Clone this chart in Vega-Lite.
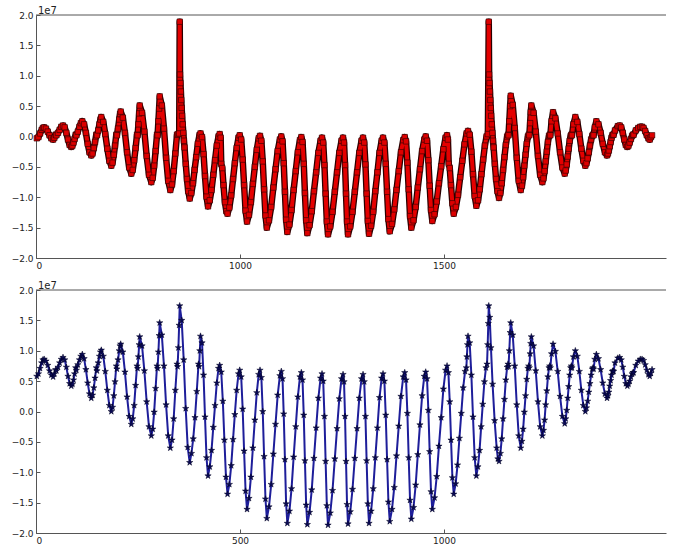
{
"$schema":"https://vega.github.io/schema/vega-lite/v6.json",
"padding":{"left":11,"top":6,"right":15,"bottom":5},
"bounds":"flush",
"spacing":32,
"config":{"view":{"stroke":null},"font":"DejaVu Sans","axis":{"labelFont":"DejaVu Sans","labelFontSize":9,"labelColor":"#222","domainColor":"#555","tickColor":"#555","grid":false,"title":null,"tickSize":-4,"labelPadding":7,"labelOverlap":false}},
"datasets":{
"top":[{"x":2,"y":-0.03},{"x":6,"y":-0.01},{"x":10,"y":0.05},{"x":14,"y":0.11},{"x":17,"y":0.14},{"x":20,"y":0.15},{"x":24.4,"y":0.13},{"x":28.8,"y":0.08},{"x":33.2,"y":0.02},{"x":37.6,"y":-0.03},{"x":42,"y":-0.05},{"x":45,"y":-0.02},{"x":48.3,"y":0.03},{"x":50,"y":0.02},{"x":54,"y":0.06},{"x":58,"y":0.11},{"x":62,"y":0.16},{"x":66.2,"y":0.18},{"x":70.3,"y":0.15},{"x":74.4,"y":0.06},{"x":78.4,"y":-0.05},{"x":82.5,"y":-0.14},{"x":86.5,"y":-0.17},{"x":89.2,"y":-0.15},{"x":91.9,"y":-0.10},{"x":94.6,"y":-0.04},{"x":97.3,"y":0.03},{"x":99,"y":0.02},{"x":102.5,"y":0.08},{"x":106.5,"y":0.16},{"x":110,"y":0.22},{"x":113.5,"y":0.25},{"x":117.9,"y":0.20},{"x":122.3,"y":0.06},{"x":126.7,"y":-0.12},{"x":131.1,"y":-0.26},{"x":135.5,"y":-0.31},{"x":138.6,"y":-0.28},{"x":141.7,"y":-0.19},{"x":144.7,"y":-0.09},{"x":147.8,"y":0.03},{"x":149.5,"y":0.02},{"x":152.5,"y":0.10},{"x":155.5,"y":0.20},{"x":158,"y":0.28},{"x":160,"y":0.32},{"x":164.9,"y":0.24},{"x":169.8,"y":0.04},{"x":174.8,"y":-0.20},{"x":179.7,"y":-0.40},{"x":184.6,"y":-0.48},{"x":187.6,"y":-0.43},{"x":190.7,"y":-0.30},{"x":193.7,"y":-0.15},{"x":196.8,"y":0.03},{"x":198.3,"y":0.02},{"x":201,"y":0.13},{"x":204,"y":0.28},{"x":206,"y":0.37},{"x":207.6,"y":0.41},{"x":212.8,"y":0.31},{"x":218,"y":0.06},{"x":223.2,"y":-0.26},{"x":228.4,"y":-0.51},{"x":233.6,"y":-0.61},{"x":237.1,"y":-0.55},{"x":240.6,"y":-0.39},{"x":244.1,"y":-0.19},{"x":247.6,"y":0.03},{"x":249,"y":0.02},{"x":251,"y":0.20},{"x":252.8,"y":0.38},{"x":254.2,"y":0.51},{"x":259.9,"y":0.39},{"x":265.6,"y":0.08},{"x":271.2,"y":-0.32},{"x":276.9,"y":-0.63},{"x":282.6,"y":-0.75},{"x":286.1,"y":-0.68},{"x":289.6,"y":-0.48},{"x":293.1,"y":-0.24},{"x":296.6,"y":0.03},{"x":298,"y":0.02},{"x":300,"y":0.25},{"x":301.8,"y":0.46},{"x":303.2,"y":0.66},{"x":308.4,"y":0.51},{"x":313.6,"y":0.13},{"x":318.8,"y":-0.35},{"x":324,"y":-0.73},{"x":329.2,"y":-0.88},{"x":333.3,"y":-0.79},{"x":337.4,"y":-0.57},{"x":341.5,"y":-0.28},{"x":345.6,"y":0.03},{"x":348,"y":0.04},{"x":351,"y":0.05},{"x":352.2,"y":1.89},{"x":353,"y":1.02},{"x":354,"y":0.88},{"x":355,"y":0.74},{"x":356,"y":0.60},{"x":357,"y":0.47},{"x":358,"y":0.34},{"x":359.5,"y":0.20},{"x":361,"y":0.06},{"x":362.5,"y":-0.07},{"x":364,"y":-0.18},{"x":367,"y":-0.45},{"x":370,"y":-0.70},{"x":373,"y":-0.90},{"x":376.7,"y":-1.02},{"x":380.7,"y":-0.93},{"x":384.7,"y":-0.77},{"x":388.6,"y":-0.55},{"x":392.6,"y":-0.34},{"x":396.6,"y":-0.12},{"x":400.6,"y":0.02},{"x":403.2,"y":0.05},{"x":406.9,"y":-0.01},{"x":410.6,"y":-0.29},{"x":414.2,"y":-0.65},{"x":417.9,"y":-0.99},{"x":421.6,"y":-1.15},{"x":425.9,"y":-1.05},{"x":430.2,"y":-0.88},{"x":434.5,"y":-0.63},{"x":438.8,"y":-0.39},{"x":443.1,"y":-0.15},{"x":447.3,"y":0.00},{"x":450.2,"y":0.04},{"x":452.5,"y":-0.02},{"x":454,"y":-0.45},{"x":456.5,"y":-0.52},{"x":459.5,"y":-0.80},{"x":463,"y":-1.08},{"x":466.5,"y":-1.23},{"x":469.4,"y":-1.27},{"x":473.9,"y":-1.17},{"x":478.4,"y":-0.97},{"x":482.9,"y":-0.70},{"x":487.3,"y":-0.44},{"x":491.8,"y":-0.19},{"x":496.3,"y":-0.02},{"x":499.3,"y":0.02},{"x":502.9,"y":-0.05},{"x":506.5,"y":-0.38},{"x":510,"y":-0.80},{"x":513.6,"y":-1.22},{"x":517.2,"y":-1.40},{"x":522,"y":-1.29},{"x":526.7,"y":-1.08},{"x":531.5,"y":-0.78},{"x":536.3,"y":-0.50},{"x":541.1,"y":-0.22},{"x":545.8,"y":-0.03},{"x":549,"y":0.01},{"x":552.3,"y":-0.07},{"x":555.7,"y":-0.41},{"x":559,"y":-0.87},{"x":562.4,"y":-1.30},{"x":565.7,"y":-1.50},{"x":571,"y":-1.38},{"x":576.4,"y":-1.16},{"x":581.7,"y":-0.84},{"x":587,"y":-0.54},{"x":592.3,"y":-0.24},{"x":597.7,"y":-0.05},{"x":601.2,"y":0.00},{"x":604.2,"y":-0.08},{"x":607.1,"y":-0.44},{"x":610.1,"y":-0.91},{"x":613,"y":-1.37},{"x":616,"y":-1.57},{"x":621.1,"y":-1.45},{"x":626.3,"y":-1.21},{"x":631.4,"y":-0.88},{"x":636.6,"y":-0.57},{"x":641.7,"y":-0.26},{"x":646.9,"y":-0.06},{"x":650.3,"y":-0.01},{"x":653.2,"y":-0.09},{"x":656.2,"y":-0.45},{"x":659.1,"y":-0.93},{"x":662.1,"y":-1.38},{"x":665,"y":-1.59},{"x":670.4,"y":-1.46},{"x":675.8,"y":-1.23},{"x":681.2,"y":-0.90},{"x":686.6,"y":-0.59},{"x":692,"y":-0.27},{"x":697.4,"y":-0.07},{"x":701,"y":-0.02},{"x":703.9,"y":-0.10},{"x":706.9,"y":-0.47},{"x":709.8,"y":-0.94},{"x":712.8,"y":-1.40},{"x":715.7,"y":-1.61},{"x":721.2,"y":-1.48},{"x":726.7,"y":-1.24},{"x":732.3,"y":-0.91},{"x":737.8,"y":-0.59},{"x":743.3,"y":-0.27},{"x":748.8,"y":-0.07},{"x":752.5,"y":-0.02},{"x":754.9,"y":-0.10},{"x":757.4,"y":-0.47},{"x":759.8,"y":-0.94},{"x":762.3,"y":-1.40},{"x":764.7,"y":-1.61},{"x":770.2,"y":-1.48},{"x":775.7,"y":-1.24},{"x":781.3,"y":-0.91},{"x":786.8,"y":-0.59},{"x":792.3,"y":-0.27},{"x":797.8,"y":-0.07},{"x":801.5,"y":-0.02},{"x":804.4,"y":-0.10},{"x":807.4,"y":-0.46},{"x":810.3,"y":-0.94},{"x":813.3,"y":-1.39},{"x":816.2,"y":-1.60},{"x":821.3,"y":-1.47},{"x":826.5,"y":-1.24},{"x":831.6,"y":-0.90},{"x":836.8,"y":-0.59},{"x":841.9,"y":-0.27},{"x":847.1,"y":-0.07},{"x":850.5,"y":-0.02},{"x":853.8,"y":-0.10},{"x":857.1,"y":-0.45},{"x":860.4,"y":-0.91},{"x":863.7,"y":-1.36},{"x":867,"y":-1.56},{"x":872.5,"y":-1.44},{"x":878,"y":-1.20},{"x":883.5,"y":-0.88},{"x":889,"y":-0.57},{"x":894.5,"y":-0.26},{"x":900,"y":-0.06},{"x":903.7,"y":-0.01},{"x":906.9,"y":-0.08},{"x":910.2,"y":-0.43},{"x":913.4,"y":-0.87},{"x":916.7,"y":-1.31},{"x":919.9,"y":-1.50},{"x":925.2,"y":-1.38},{"x":930.5,"y":-1.16},{"x":935.7,"y":-0.84},{"x":941,"y":-0.54},{"x":946.3,"y":-0.24},{"x":951.6,"y":-0.05},{"x":955.1,"y":0.00},{"x":958.3,"y":-0.07},{"x":961.6,"y":-0.39},{"x":964.8,"y":-0.81},{"x":968.1,"y":-1.21},{"x":971.3,"y":-1.39},{"x":976.7,"y":-1.28},{"x":982.1,"y":-1.07},{"x":987.5,"y":-0.77},{"x":993,"y":-0.49},{"x":998.4,"y":-0.21},{"x":1003.8,"y":-0.02},{"x":1007.4,"y":0.02},{"x":1009.5,"y":-0.05},{"x":1011.5,"y":-0.45},{"x":1014,"y":-0.52},{"x":1017,"y":-0.80},{"x":1020.5,"y":-1.10},{"x":1023.8,"y":-1.27},{"x":1029.1,"y":-1.16},{"x":1034.3,"y":-0.96},{"x":1039.6,"y":-0.67},{"x":1044.8,"y":-0.40},{"x":1050.1,"y":-0.13},{"x":1055.3,"y":0.05},{"x":1058.8,"y":0.09},{"x":1062.9,"y":0.03},{"x":1067,"y":-0.25},{"x":1071,"y":-0.62},{"x":1075.1,"y":-0.98},{"x":1079.2,"y":-1.14},{"x":1083.4,"y":-1.05},{"x":1087.5,"y":-0.87},{"x":1091.7,"y":-0.62},{"x":1095.9,"y":-0.38},{"x":1100.1,"y":-0.15},{"x":1104.2,"y":0.00},{"x":1107.5,"y":0.04},{"x":1109.6,"y":1.89},{"x":1110.5,"y":1.02},{"x":1111.5,"y":0.88},{"x":1112.5,"y":0.74},{"x":1113.5,"y":0.60},{"x":1114.5,"y":0.47},{"x":1115.5,"y":0.34},{"x":1117,"y":0.20},{"x":1118.5,"y":0.06},{"x":1120,"y":-0.07},{"x":1121.5,"y":-0.18},{"x":1124.5,"y":-0.45},{"x":1127.5,"y":-0.70},{"x":1131,"y":-0.90},{"x":1134.8,"y":-1.01},{"x":1138.1,"y":-0.93},{"x":1141.4,"y":-0.77},{"x":1144.7,"y":-0.55},{"x":1148.1,"y":-0.34},{"x":1151.4,"y":-0.14},{"x":1154.7,"y":0.00},{"x":1156.9,"y":0.03},{"x":1158,"y":0.02},{"x":1160,"y":0.25},{"x":1162,"y":0.50},{"x":1163.5,"y":0.67},{"x":1168.4,"y":0.52},{"x":1173.3,"y":0.14},{"x":1178.2,"y":-0.35},{"x":1183.1,"y":-0.73},{"x":1188,"y":-0.88},{"x":1190.9,"y":-0.81},{"x":1193.9,"y":-0.67},{"x":1196.8,"y":-0.48},{"x":1199.8,"y":-0.30},{"x":1202.7,"y":-0.12},{"x":1205.6,"y":0.00},{"x":1207.6,"y":0.03},{"x":1209,"y":0.02},{"x":1211,"y":0.22},{"x":1212.5,"y":0.40},{"x":1214,"y":0.51},{"x":1219.4,"y":0.39},{"x":1224.8,"y":0.08},{"x":1230.2,"y":-0.32},{"x":1235.6,"y":-0.63},{"x":1241,"y":-0.75},{"x":1243.7,"y":-0.69},{"x":1246.4,"y":-0.57},{"x":1249.1,"y":-0.41},{"x":1251.9,"y":-0.25},{"x":1254.6,"y":-0.09},{"x":1257.3,"y":0.01},{"x":1259.1,"y":0.03},{"x":1260.5,"y":0.02},{"x":1263.5,"y":0.25},{"x":1267.2,"y":0.40},{"x":1272.9,"y":0.30},{"x":1278.6,"y":0.05},{"x":1284.4,"y":-0.26},{"x":1290.1,"y":-0.51},{"x":1295.8,"y":-0.61},{"x":1298.2,"y":-0.56},{"x":1300.7,"y":-0.46},{"x":1303.1,"y":-0.33},{"x":1305.5,"y":-0.20},{"x":1308,"y":-0.07},{"x":1310.4,"y":0.01},{"x":1312,"y":0.03},{"x":1313.5,"y":0.02},{"x":1317,"y":0.20},{"x":1321.8,"y":0.32},{"x":1326.7,"y":0.24},{"x":1331.6,"y":0.04},{"x":1336.5,"y":-0.20},{"x":1341.4,"y":-0.40},{"x":1346.3,"y":-0.48},{"x":1349.1,"y":-0.44},{"x":1352,"y":-0.36},{"x":1354.8,"y":-0.26},{"x":1357.6,"y":-0.15},{"x":1360.5,"y":-0.05},{"x":1363.3,"y":0.01},{"x":1365.2,"y":0.03},{"x":1366.5,"y":0.02},{"x":1369.5,"y":0.15},{"x":1373.3,"y":0.25},{"x":1378.5,"y":0.20},{"x":1383.8,"y":0.06},{"x":1389,"y":-0.12},{"x":1394.3,"y":-0.26},{"x":1399.5,"y":-0.31},{"x":1401.7,"y":-0.28},{"x":1403.9,"y":-0.23},{"x":1406.1,"y":-0.16},{"x":1408.3,"y":-0.09},{"x":1410.5,"y":-0.02},{"x":1412.7,"y":0.02},{"x":1414.2,"y":0.03},{"x":1415.5,"y":0.03},{"x":1419,"y":0.10},{"x":1426,"y":0.17},{"x":1430.6,"y":0.18},{"x":1434.3,"y":0.15},{"x":1438.1,"y":0.06},{"x":1441.8,"y":-0.05},{"x":1445.6,"y":-0.14},{"x":1449.3,"y":-0.17},{"x":1452,"y":-0.15},{"x":1455,"y":-0.10},{"x":1458,"y":-0.04},{"x":1461,"y":0.01},{"x":1463.2,"y":0.03},{"x":1464.5,"y":0.03},{"x":1470,"y":0.10},{"x":1476,"y":0.14},{"x":1481,"y":0.16},{"x":1485.3,"y":0.16},{"x":1489,"y":0.14},{"x":1493,"y":0.09},{"x":1497,"y":0.02},{"x":1501,"y":-0.03},{"x":1504.1,"y":-0.05},{"x":1507,"y":-0.01},{"x":1509.8,"y":0.02}],
"bottom":[{"x":2,"y":0.58},{"x":6,"y":0.62},{"x":10,"y":0.71},{"x":14,"y":0.80},{"x":17,"y":0.85},{"x":20,"y":0.86},{"x":24.4,"y":0.83},{"x":28.8,"y":0.76},{"x":33.2,"y":0.67},{"x":37.6,"y":0.60},{"x":42,"y":0.57},{"x":45,"y":0.62},{"x":48.3,"y":0.69},{"x":50,"y":0.67},{"x":54,"y":0.73},{"x":58,"y":0.80},{"x":62,"y":0.86},{"x":66.2,"y":0.89},{"x":70.3,"y":0.85},{"x":74.4,"y":0.73},{"x":78.4,"y":0.58},{"x":82.5,"y":0.46},{"x":86.5,"y":0.42},{"x":89.2,"y":0.45},{"x":91.9,"y":0.52},{"x":94.6,"y":0.62},{"x":97.3,"y":0.72},{"x":99,"y":0.68},{"x":102.5,"y":0.77},{"x":106.5,"y":0.85},{"x":110,"y":0.91},{"x":113.5,"y":0.94},{"x":117.9,"y":0.87},{"x":122.3,"y":0.69},{"x":126.7,"y":0.47},{"x":131.1,"y":0.29},{"x":135.5,"y":0.22},{"x":138.6,"y":0.27},{"x":141.7,"y":0.39},{"x":144.7,"y":0.55},{"x":147.8,"y":0.72},{"x":149.5,"y":0.67},{"x":152.5,"y":0.80},{"x":155.5,"y":0.91},{"x":158,"y":0.98},{"x":160,"y":1.01},{"x":164.9,"y":0.91},{"x":169.8,"y":0.66},{"x":174.8,"y":0.35},{"x":179.7,"y":0.10},{"x":184.6,"y":0.00},{"x":187.6,"y":0.07},{"x":190.7,"y":0.26},{"x":193.7,"y":0.49},{"x":196.8,"y":0.75},{"x":198.3,"y":0.70},{"x":201,"y":0.85},{"x":204,"y":1.00},{"x":206,"y":1.08},{"x":207.6,"y":1.11},{"x":212.8,"y":0.98},{"x":218,"y":0.65},{"x":223.2,"y":0.24},{"x":228.4,"y":-0.08},{"x":233.6,"y":-0.21},{"x":237.1,"y":-0.12},{"x":240.6,"y":0.10},{"x":244.1,"y":0.43},{"x":247.6,"y":0.75},{"x":249,"y":0.71},{"x":251,"y":0.90},{"x":252.8,"y":1.10},{"x":254.2,"y":1.23},{"x":259.9,"y":1.08},{"x":265.6,"y":0.67},{"x":271.2,"y":0.16},{"x":276.9,"y":-0.25},{"x":282.6,"y":-0.40},{"x":286.1,"y":-0.29},{"x":289.6,"y":-0.01},{"x":293.1,"y":0.38},{"x":296.6,"y":0.75},{"x":298,"y":0.71},{"x":300,"y":0.98},{"x":301.8,"y":1.25},{"x":303.2,"y":1.46},{"x":308.4,"y":1.26},{"x":313.6,"y":0.75},{"x":318.8,"y":0.11},{"x":324,"y":-0.40},{"x":329.2,"y":-0.60},{"x":333.3,"y":-0.47},{"x":337.4,"y":-0.12},{"x":341.5,"y":0.35},{"x":345.6,"y":0.78},{"x":347,"y":0.74},{"x":349,"y":1.05},{"x":350.8,"y":1.42},{"x":352.2,"y":1.74},{"x":357.1,"y":1.50},{"x":362,"y":0.85},{"x":366.9,"y":0.05},{"x":371.8,"y":-0.59},{"x":376.7,"y":-0.84},{"x":381,"y":-0.69},{"x":385.3,"y":-0.45},{"x":389.7,"y":-0.10},{"x":394,"y":0.33},{"x":398.3,"y":0.78},{"x":399.8,"y":0.74},{"x":401.5,"y":1.00},{"x":403.2,"y":1.24},{"x":406.9,"y":1.13},{"x":410.6,"y":0.60},{"x":414.2,"y":-0.09},{"x":417.9,"y":-0.76},{"x":421.6,"y":-1.06},{"x":425.9,"y":-0.91},{"x":430.2,"y":-0.64},{"x":434.5,"y":-0.26},{"x":438.8,"y":0.10},{"x":443.1,"y":0.47},{"x":447.3,"y":0.71},{"x":450.2,"y":0.76},{"x":454,"y":0.65},{"x":457.9,"y":0.17},{"x":461.7,"y":-0.47},{"x":465.6,"y":-1.08},{"x":469.4,"y":-1.36},{"x":473.9,"y":-1.20},{"x":478.4,"y":-0.89},{"x":482.9,"y":-0.46},{"x":487.3,"y":-0.05},{"x":491.8,"y":0.35},{"x":496.3,"y":0.62},{"x":499.3,"y":0.68},{"x":502.9,"y":0.57},{"x":506.5,"y":0.04},{"x":510,"y":-0.65},{"x":513.6,"y":-1.31},{"x":517.2,"y":-1.61},{"x":522,"y":-1.43},{"x":526.7,"y":-1.08},{"x":531.5,"y":-0.60},{"x":536.3,"y":-0.14},{"x":541.1,"y":0.31},{"x":545.8,"y":0.61},{"x":549,"y":0.68},{"x":552.3,"y":0.56},{"x":555.7,"y":0.00},{"x":559,"y":-0.74},{"x":562.4,"y":-1.44},{"x":565.7,"y":-1.76},{"x":571,"y":-1.57},{"x":576.4,"y":-1.20},{"x":581.7,"y":-0.70},{"x":587,"y":-0.21},{"x":592.3,"y":0.27},{"x":597.7,"y":0.59},{"x":601.2,"y":0.66},{"x":604.2,"y":0.54},{"x":607.1,"y":-0.04},{"x":610.1,"y":-0.79},{"x":613,"y":-1.52},{"x":616,"y":-1.84},{"x":621.1,"y":-1.64},{"x":626.3,"y":-1.27},{"x":631.4,"y":-0.75},{"x":636.6,"y":-0.25},{"x":641.7,"y":0.24},{"x":646.9,"y":0.57},{"x":650.3,"y":0.64},{"x":653.2,"y":0.52},{"x":656.2,"y":-0.06},{"x":659.1,"y":-0.81},{"x":662.1,"y":-1.54},{"x":665,"y":-1.86},{"x":670.4,"y":-1.66},{"x":675.8,"y":-1.29},{"x":681.2,"y":-0.77},{"x":686.6,"y":-0.27},{"x":692,"y":0.22},{"x":697.4,"y":0.55},{"x":701,"y":0.62},{"x":703.9,"y":0.50},{"x":706.9,"y":-0.08},{"x":709.8,"y":-0.82},{"x":712.8,"y":-1.55},{"x":715.7,"y":-1.87},{"x":721.2,"y":-1.67},{"x":726.7,"y":-1.30},{"x":732.3,"y":-0.78},{"x":737.8,"y":-0.28},{"x":743.3,"y":0.21},{"x":748.8,"y":0.54},{"x":752.5,"y":0.61},{"x":754.9,"y":0.49},{"x":757.4,"y":-0.08},{"x":759.8,"y":-0.82},{"x":762.3,"y":-1.53},{"x":764.7,"y":-1.85},{"x":770.2,"y":-1.65},{"x":775.7,"y":-1.28},{"x":781.3,"y":-0.77},{"x":786.8,"y":-0.28},{"x":792.3,"y":0.22},{"x":797.8,"y":0.54},{"x":801.5,"y":0.61},{"x":804.4,"y":0.49},{"x":807.4,"y":-0.08},{"x":810.3,"y":-0.81},{"x":813.3,"y":-1.52},{"x":816.2,"y":-1.84},{"x":821.3,"y":-1.64},{"x":826.5,"y":-1.27},{"x":831.6,"y":-0.76},{"x":836.8,"y":-0.27},{"x":841.9,"y":0.23},{"x":847.1,"y":0.55},{"x":850.5,"y":0.62},{"x":853.8,"y":0.50},{"x":857.1,"y":-0.06},{"x":860.4,"y":-0.79},{"x":863.7,"y":-1.49},{"x":867,"y":-1.81},{"x":872.5,"y":-1.61},{"x":878,"y":-1.25},{"x":883.5,"y":-0.73},{"x":889,"y":-0.24},{"x":894.5,"y":0.25},{"x":900,"y":0.57},{"x":903.7,"y":0.64},{"x":906.9,"y":0.52},{"x":910.2,"y":-0.03},{"x":913.4,"y":-0.76},{"x":916.7,"y":-1.46},{"x":919.9,"y":-1.77},{"x":925.2,"y":-1.58},{"x":930.5,"y":-1.21},{"x":935.7,"y":-0.71},{"x":941,"y":-0.22},{"x":946.3,"y":0.26},{"x":951.6,"y":0.58},{"x":955.1,"y":0.65},{"x":958.3,"y":0.54},{"x":961.6,"y":0.02},{"x":964.8,"y":-0.66},{"x":968.1,"y":-1.32},{"x":971.3,"y":-1.61},{"x":976.7,"y":-1.42},{"x":982.1,"y":-1.07},{"x":987.5,"y":-0.57},{"x":993,"y":-0.10},{"x":998.4,"y":0.37},{"x":1003.8,"y":0.68},{"x":1007.4,"y":0.75},{"x":1010.7,"y":0.64},{"x":1014,"y":0.16},{"x":1017.2,"y":-0.47},{"x":1020.5,"y":-1.09},{"x":1023.8,"y":-1.36},{"x":1028.4,"y":-1.19},{"x":1033.1,"y":-0.88},{"x":1037.7,"y":-0.44},{"x":1042.3,"y":-0.03},{"x":1046.9,"y":0.39},{"x":1051.6,"y":0.66},{"x":1054.7,"y":0.72},{"x":1056,"y":0.90},{"x":1057.5,"y":1.10},{"x":1058.8,"y":1.24},{"x":1062.9,"y":1.13},{"x":1067,"y":0.60},{"x":1071,"y":-0.09},{"x":1075.1,"y":-0.76},{"x":1079.2,"y":-1.06},{"x":1083.1,"y":-0.91},{"x":1087.1,"y":-0.64},{"x":1091,"y":-0.25},{"x":1094.9,"y":0.12},{"x":1098.9,"y":0.49},{"x":1102.8,"y":0.72},{"x":1105.4,"y":0.78},{"x":1107,"y":1.10},{"x":1108.5,"y":1.45},{"x":1109.6,"y":1.74},{"x":1112,"y":1.55},{"x":1115,"y":1.05},{"x":1119,"y":0.45},{"x":1124,"y":-0.15},{"x":1129,"y":-0.60},{"x":1132,"y":-0.78},{"x":1134.8,"y":-0.82},{"x":1138.1,"y":-0.69},{"x":1141.4,"y":-0.45},{"x":1144.7,"y":-0.12},{"x":1148.1,"y":0.20},{"x":1151.4,"y":0.52},{"x":1154.7,"y":0.73},{"x":1156.9,"y":0.78},{"x":1158,"y":0.74},{"x":1160,"y":1.00},{"x":1162,"y":1.30},{"x":1163.5,"y":1.46},{"x":1168.4,"y":1.26},{"x":1173.3,"y":0.75},{"x":1178.2,"y":0.11},{"x":1183.1,"y":-0.40},{"x":1188,"y":-0.60},{"x":1190.9,"y":-0.49},{"x":1193.9,"y":-0.29},{"x":1196.8,"y":-0.01},{"x":1199.8,"y":0.26},{"x":1202.7,"y":0.53},{"x":1205.6,"y":0.71},{"x":1207.6,"y":0.75},{"x":1209,"y":0.72},{"x":1211,"y":0.95},{"x":1212.5,"y":1.12},{"x":1214,"y":1.23},{"x":1219.4,"y":1.08},{"x":1224.8,"y":0.67},{"x":1230.2,"y":0.16},{"x":1235.6,"y":-0.25},{"x":1241,"y":-0.40},{"x":1243.7,"y":-0.31},{"x":1246.4,"y":-0.14},{"x":1249.1,"y":0.11},{"x":1251.9,"y":0.34},{"x":1254.6,"y":0.57},{"x":1257.3,"y":0.72},{"x":1259.1,"y":0.75},{"x":1260.5,"y":0.72},{"x":1263.5,"y":0.95},{"x":1267.2,"y":1.11},{"x":1272.9,"y":0.99},{"x":1278.6,"y":0.66},{"x":1284.4,"y":0.25},{"x":1290.1,"y":-0.08},{"x":1295.8,"y":-0.20},{"x":1298.2,"y":-0.12},{"x":1300.7,"y":0.02},{"x":1303.1,"y":0.22},{"x":1305.5,"y":0.41},{"x":1308,"y":0.60},{"x":1310.4,"y":0.72},{"x":1312,"y":0.75},{"x":1313.5,"y":0.72},{"x":1317,"y":0.90},{"x":1321.8,"y":1.00},{"x":1326.7,"y":0.91},{"x":1331.6,"y":0.66},{"x":1336.5,"y":0.35},{"x":1341.4,"y":0.10},{"x":1346.3,"y":0.00},{"x":1349.1,"y":0.06},{"x":1352,"y":0.17},{"x":1354.8,"y":0.32},{"x":1357.6,"y":0.46},{"x":1360.5,"y":0.60},{"x":1363.3,"y":0.70},{"x":1365.2,"y":0.72},{"x":1366.5,"y":0.70},{"x":1369.5,"y":0.86},{"x":1373.3,"y":0.94},{"x":1378.5,"y":0.87},{"x":1383.8,"y":0.69},{"x":1389,"y":0.47},{"x":1394.3,"y":0.29},{"x":1399.5,"y":0.22},{"x":1401.7,"y":0.26},{"x":1403.9,"y":0.32},{"x":1406.1,"y":0.42},{"x":1408.3,"y":0.51},{"x":1410.5,"y":0.60},{"x":1412.7,"y":0.66},{"x":1414.2,"y":0.67},{"x":1415.5,"y":0.66},{"x":1419,"y":0.80},{"x":1426,"y":0.88},{"x":1430.6,"y":0.89},{"x":1434.3,"y":0.85},{"x":1438.1,"y":0.73},{"x":1441.8,"y":0.58},{"x":1445.6,"y":0.46},{"x":1449.3,"y":0.42},{"x":1452,"y":0.45},{"x":1455,"y":0.50},{"x":1458,"y":0.57},{"x":1461,"y":0.62},{"x":1463.2,"y":0.64},{"x":1464.5,"y":0.64},{"x":1470,"y":0.76},{"x":1476,"y":0.83},{"x":1481,"y":0.86},{"x":1485.3,"y":0.86},{"x":1489,"y":0.84},{"x":1493,"y":0.77},{"x":1497,"y":0.68},{"x":1501,"y":0.61},{"x":1504.1,"y":0.58},{"x":1507,"y":0.63},{"x":1509.8,"y":0.69}]
},
"vconcat":[
{"width":630,"height":243,
 "layer":[
  {"data":{"name":"top"},"mark":{"type":"line","color":"#2a0000","strokeWidth":6.5,"strokeJoin":"round"},
   "encoding":{
    "x":{"field":"x","type":"quantitative","scale":{"domain":[0,1544],"nice":false,"zero":false},"axis":{"values":[0,500,1000],"tickCount":20,"labelOverlap":false,"labelExpr":"datum.value == 500 ? '1000' : datum.value == 1000 ? '1500' : '0'"}},
    "y":{"field":"y","type":"quantitative","scale":{"domain":[-2,2],"nice":false,"zero":false},"axis":{"values":[-2,-1.5,-1,-0.5,0,0.5,1,1.5,2],"tickCount":20,"format":".1f","labelOverlap":false}}}},
  {"data":{"name":"top"},"mark":{"type":"line","color":"#e40000","strokeWidth":4,"strokeJoin":"round"},
   "encoding":{"x":{"field":"x","type":"quantitative"},"y":{"field":"y","type":"quantitative"}}},
  {"data":{"name":"top"},"mark":{"type":"point","shape":"square","size":30,"filled":true,"fill":"#dd0000","stroke":"#2a0000","strokeWidth":0.6,"opacity":1},
   "encoding":{"x":{"field":"x","type":"quantitative"},"y":{"field":"y","type":"quantitative"}}},
  {"data":{"values":[{"t":"1e7"}]},"mark":{"type":"text","align":"left","baseline":"bottom","fontSize":10,"dx":2,"dy":1,"color":"#222"},
   "encoding":{"x":{"datum":0,"type":"quantitative"},"y":{"datum":2,"type":"quantitative"},"text":{"field":"t"}}},
  {"data":{"values":[{"s":1}]},"mark":{"type":"rule","color":"#555","strokeWidth":1},"encoding":{"y":{"datum":2,"type":"quantitative"}}}
 ]},
{"width":630,"height":243,
 "layer":[
  {"data":{"name":"bottom"},"mark":{"type":"line","color":"#1e1e9a","strokeWidth":2,"strokeJoin":"round"},
   "encoding":{
    "x":{"field":"x","type":"quantitative","scale":{"domain":[0,1544],"nice":false,"zero":false},"axis":{"values":[0,500,1000],"tickCount":20,"format":"d","labelOverlap":false}},
    "y":{"field":"y","type":"quantitative","scale":{"domain":[-2,2],"nice":false,"zero":false},"axis":{"values":[-2,-1.5,-1,-0.5,0,0.5,1,1.5,2],"tickCount":20,"format":".1f","labelOverlap":false}}}},
  {"data":{"name":"bottom"},"mark":{"type":"point","shape":"M0,-1L0.2245,-0.309L0.951,-0.309L0.3633,0.118L0.5878,0.809L0,0.382L-0.5878,0.809L-0.3633,0.118L-0.951,-0.309L-0.2245,-0.309Z","size":44,"filled":true,"fill":"#0a0a55","stroke":"#000022","strokeWidth":0.5,"opacity":1},
   "encoding":{"x":{"field":"x","type":"quantitative"},"y":{"field":"y","type":"quantitative"}}},
  {"data":{"values":[{"t":"1e7"}]},"mark":{"type":"text","align":"left","baseline":"bottom","fontSize":10,"dx":2,"dy":1,"color":"#222"},
   "encoding":{"x":{"datum":0,"type":"quantitative"},"y":{"datum":2,"type":"quantitative"},"text":{"field":"t"}}},
  {"data":{"values":[{"s":1}]},"mark":{"type":"rule","color":"#555","strokeWidth":1},"encoding":{"y":{"datum":2,"type":"quantitative"}}}
 ]}
]
}
